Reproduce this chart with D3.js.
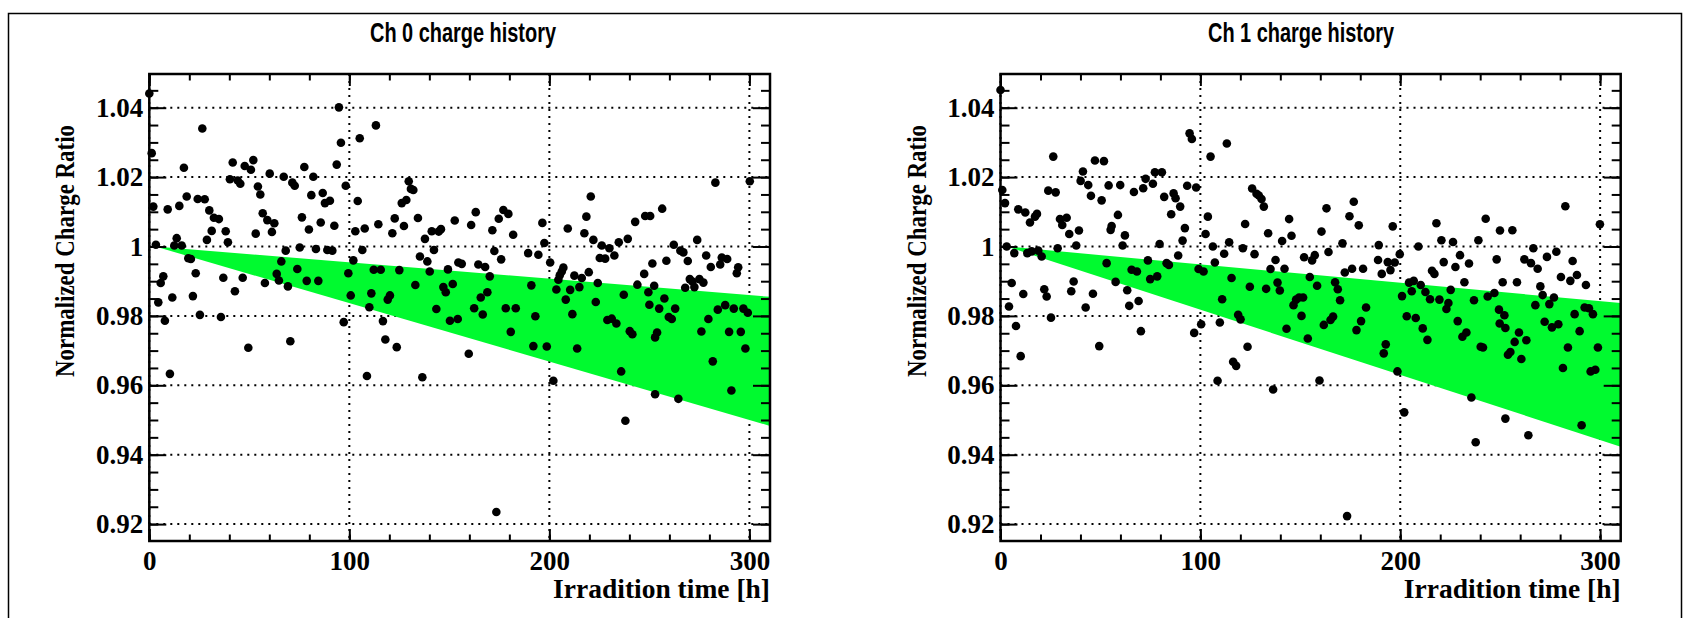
<!DOCTYPE html>
<html>
<head>
<meta charset="utf-8">
<script src="https://cdn.jsdelivr.net/npm/d3@7"></script>
<style>
  html, body { margin: 0; padding: 0; background: #fff; }
  .tick text { font-family: "Liberation Serif", "Times New Roman", serif; font-weight: bold; font-size: 27px; fill: #000; }
  .tick line { stroke: #000; stroke-width: 2; }
</style>
</head>
<body>
<svg id="chart"></svg>
<script>
const width = 1691, height = 618;

// [irradiation time (h), normalized charge ratio]
const ch0Points = [
  [0,1.0441],[1.2,1.0269],[2,1.0115],[3.3,1.0005],[7,0.9914],[5.7,0.9895],[4.5,0.9839],[11.5,0.9853],[9.2,1.0107],[13.7,1.0024],
  [12.5,1.0003],[16.2,1.0003],[15,1.0117],[17.3,1.0227],[18.7,1.0144],[19.5,0.9966],[20.8,0.9964],[23.2,0.9923],[21.8,0.9857],[26.5,1.034],
  [24.2,1.0137],[27.7,1.0136],[30,1.0104],[32.3,1.0083],[34.8,1.0079],[31.2,1.0045],[28.8,1.0019],[38.2,1.0044],[39.3,1.0012],[37,0.991],
  [42.8,0.9871],[46.7,0.991],[40.3,1.0194],[41.7,1.0242],[44.2,1.019],[45.5,1.0181],[47.7,1.0232],[50.8,1.0221],[52,1.0249],[54.3,1.0173],
  [55.5,1.015],[56.7,1.0096],[59,1.0076],[62.5,1.0067],[61.3,1.0042],[53.2,1.0037],[60.2,1.021],[67.2,1.0201],[71.5,1.0184],[72.7,1.0175],
  [68.2,0.9988],[66,0.9957],[63.7,0.9921],[64.8,0.9902],[57.8,0.9895],[69.3,0.9885],[74,0.9935],[75.2,0.9997],[76.3,1.0084],[79.8,1.0049],
  [77.5,1.0229],[82,1.0201],[81,1.0148],[83.3,0.9993],[78.7,0.9901],[84.5,0.9901],[86.7,1.0154],[87.8,1.0125],[90.3,1.0132],[85.7,1.0069],
  [89,0.999],[91.5,0.9988],[92.5,1.006],[93.7,1.0236],[94.8,1.0401],[95.8,1.0299],[98.2,1.0175],[102,0.996],[99.5,0.9923],[100.7,0.9859],
  [103,1.0044],[104.2,1.0131],[106.5,0.999],[107.7,1.0052],[105.2,1.0312],[113.3,1.0349],[114.5,1.0064],[112.2,0.9933],[115.7,0.9933],[111,0.9865],
  [110,0.9825],[119.2,0.9847],[120.3,0.9859],[121.5,1.0038],[122.7,1.0081],[125,0.9932],[127.3,1.0059],[126.2,1.0125],[128.5,1.0134],[129.7,1.0188],
  [130.8,1.0166],[132,1.0163],[134.3,1.0082],[133,0.9889],[135.3,0.9971],[137.8,1.0022],[139,0.9957],[140.2,0.9928],[141.2,1.0044],[142.3,0.999],
  [144.7,1.0043],[145.8,1.005],[143.5,0.982],[147,0.9883],[148.2,0.9868],[149.3,0.9934],[151.7,0.9892],[152.7,1.0075],[154.5,0.9954],
  [7.8,0.9786],[10.3,0.9633],[25.3,0.9803],[35.8,0.9797],[49.5,0.9708],[70.5,0.9727],[97.2,0.9782],[116.8,0.9785],[118,0.9732],[123.7,0.971],
  [108.8,0.9627],[136.5,0.9623],[150.3,0.9786],
  [156.2,0.995],[160.9,1.0062],[163.2,1.0099],[164.5,0.9948],[167.9,0.9941],[170.2,0.9914],[165.7,0.9853],[169,0.9868],[162.4,0.9822],[171.5,1.0047],
  [174.7,1.008],[177,1.0105],[179.5,1.0094],[181.9,1.0034],[172.5,0.9987],[175.9,0.9963],[178.2,0.9822],[183.2,0.9822],[189.4,0.9981],[194.5,0.9976],
  [191,0.9888],[196.5,1.0068],[197.5,1.001],[200.4,0.9954],[207,0.9939],[206.2,0.9928],[205.2,0.9917],[204.5,0.9904],[203.5,0.9876],[208.2,0.9847],
  [210.4,0.9875],[212.5,0.9916],[215,0.9883],[216.2,0.9909],[219.7,0.9926],[224.2,0.9895],[223.2,0.984],[209.2,1.0052],[217.5,1.0038],[218.5,1.0086],
  [220.7,1.0144],[222,1.0019],[226.2,1.0003],[230,0.9995],[225.2,0.9967],[227.9,0.9965],[232.5,0.9974],[234.7,1.0012],[239.2,1.0022],[242.9,1.0071],
  [237.2,0.9861],[244,0.989],[247.4,0.9921],[247.9,1.0088],[250.4,1.0088],[256.4,1.0109],[251.5,0.9951],[249.5,0.9868],[252.4,0.9887],[250,0.9832],
  [257.5,0.985],[258.5,0.9959],[262.2,1.0005],[265.5,0.9988],[267,0.9983],[269.2,0.9958],[273.9,1.0019],[278.4,0.9974],[280.7,0.9941],[285.4,0.9948],
  [286.2,0.9968],[288.9,0.9964],[294.4,0.994],[293.7,0.9923],[270.2,0.9906],[271.5,0.9899],[275,0.9906],[277,0.9896],[267.9,0.9881],[272.5,0.9883],
  [283,1.0184],[300.2,1.0188],[287.9,0.9831],[292.2,0.9821],[297,0.9821],[262.9,0.9821],[254.9,0.9821],[284.2,0.9818],
  [154.2,0.9791],[166.7,0.9804],[180.7,0.9754],[193,0.9799],[192,0.9713],[198.7,0.9712],[159.7,0.9691],[211.5,0.9805],[213.9,0.9706],[202,0.9613],
  [229,0.9788],[231.2,0.9792],[233.5,0.9778],[240.2,0.9756],[241.5,0.9747],[235.9,0.964],[238,0.9498],[173.5,0.9235],[259.7,0.9797],[261.2,0.9791],
  [253.85,0.9752],[252.85,0.9738],[252.85,0.9574],[264.5,0.9561],[276,0.9755],[279.5,0.9791],[299.2,0.9809],[289.85,0.9754],[295.7,0.9754],[298,0.9706],
  [281.7,0.9669],[291,0.9585]
];

const ch1Points = [
  [0,1.0451],[0.9,1.0163],[2.25,1.0125],[3.1,1.0],[6.9,0.9981],[8.9,1.0107],[12.4,1.0098],[14.75,1.0069],[17.25,1.0086],[18.25,1.0094],
  [13.4,0.9981],[15.6,0.9986],[18.9,0.9988],[20.6,0.9971],[5.6,0.9895],[11.4,0.9863],[4.25,0.9827],[21.9,0.9877],[23.1,0.9856],[26.4,1.0259],
  [23.9,1.0161],[27.6,1.0156],[29.75,1.0079],[30.9,1.0062],[33.1,1.0083],[28.6,0.9995],[34.4,1.0036],[39.25,1.0046],[37.9,1.0003],[36.6,0.9899],
  [35.4,0.9871],[40.1,1.0189],[41.25,1.0216],[43.9,1.0177],[45.25,1.0146],[47.25,1.0248],[51.75,1.0246],[50.6,1.0133],[54.1,1.0176],[55.6,1.0059],
  [55.1,1.0048],[58.75,1.0091],[59.9,1.0177],[62.25,1.0032],[61.1,1.0003],[53.1,0.9952],[57.6,0.9898],[46.25,0.9864],[42.6,0.9824],[63.4,0.9874],
  [64.4,0.9829],[66.75,1.0157],[65.6,0.9933],[68.25,0.9928],[69.1,0.9843],[71.4,1.0168],[72.6,1.0195],[76.25,1.0181],[77.25,1.0214],[80.75,1.0214],
  [73.75,0.996],[74.9,0.9906],[78.4,0.9914],[79.6,1.0007],[81.9,1.0143],[83.1,0.9952],[84.25,0.9947],[85.4,1.0093],[86.6,1.0153],[87.6,1.0139],
  [89.9,1.0115],[88.9,0.9974],[91.1,1.0017],[92.25,1.0053],[93.4,1.0175],[94.6,1.0326],[95.75,1.031],[97.9,1.017],[99.1,0.9935],[101.6,0.9928],
  [103.75,1.0086],[102.6,1.0036],[105.1,1.0259],[106.25,1.0],[107.25,0.9954],[111.9,0.9979],[114.4,1.0012],[113.25,1.0297],[115.6,0.9909],[110.9,0.9848],
  [121.25,0.9995],[122.4,1.0065],[124.75,0.9884],[125.9,1.0167],[127.1,0.9978],[128.1,1.0152],[129.25,1.0147],[130.6,1.0137],[131.75,1.0115],[132.9,0.9878],
  [133.9,1.0038],[135.1,0.9935],[137.6,0.9961],[138.6,0.9896],[139.75,0.9873],[140.9,1.0016],[142.1,0.9936],[144.4,1.0079],[145.6,1.0031],[146.6,0.9831],
  [147.9,0.9847],[149.4,0.9853],[151.4,0.9853],[151.9,0.9969],
  [7.75,0.9771],[10.1,0.9684],[25.25,0.9795],[49.4,0.9713],[70.25,0.9756],[96.9,0.9751],[100.4,0.9776],[109.75,0.9781],[118.9,0.9803],[120.1,0.979],
  [116.4,0.9668],[117.9,0.9656],[123.6,0.9711],[108.6,0.9613],[136.4,0.9588],[143.1,0.9763],
  [155.9,0.996],[157.25,0.9975],[154.75,0.9912],[158.4,0.9887],[160.6,1.0043],[163.1,1.011],[164.1,0.9984],[167.4,0.9897],[168.75,0.9877],[169.9,0.9845],
  [171.1,1.0009],[172.25,0.9925],[174.6,1.0087],[175.9,0.9936],[176.75,1.0129],[179.25,1.0061],[181.4,0.9936],[182.9,0.9824],[189.25,1.0004],[188.9,0.9961],
  [190.75,0.9921],[193.75,0.9955],[195.1,0.9932],[196.25,1.0058],[197.25,0.9954],[199.75,0.9978],[200.9,0.9857],[204.4,0.9896],[206.75,0.9901],[205.75,0.9871],
  [209.1,1.0],[210.25,0.9889],[212.6,0.9869],[214.9,0.9848],[215.9,0.993],[217.1,0.9921],[218.1,1.0067],[219.6,0.9847],[220.6,1.0018],[221.75,0.9955],
  [224.1,0.9837],[225.25,0.9875],[226.4,1.0013],[227.6,0.9941],[229.9,0.9975],[232.1,0.9897],[234.4,0.9951],[236.9,0.9845],[239.1,1.0018],[242.75,1.008],
  [243.75,0.9856],[247.1,0.9866],[248.25,0.9963],[249.9,1.0046],[251.25,0.9897],[256.1,1.0047],[258.4,0.9897],[262.1,0.9963],[265.4,0.9952],[266.6,0.9995],
  [268.75,0.9936],[270.1,0.9885],[271.25,0.986],[273.4,0.997],[274.6,0.9834],[276.9,0.9853],[278.1,0.9985],[280.4,0.9912],[282.6,1.0116],[285.1,0.9901],
  [286.25,0.9958],[288.4,0.9918],[292.9,0.9889],[299.9,1.0064],[267.6,0.9831],[292.25,0.9824],[294.4,0.9822],[249.4,0.9818],[223.1,0.982],
  [150.6,0.98],[153.75,0.9735],[161.75,0.9774],[165.1,0.9788],[166.4,0.9798],[180.4,0.9785],[178.1,0.9759],[192.75,0.9718],[191.75,0.9692],[198.6,0.964],
  [159.6,0.9614],[203.25,0.9799],[207.75,0.9794],[211.25,0.9764],[213.6,0.9731],[202,0.9522],[173.4,0.9223],[228.75,0.9785],[233.1,0.9752],[231.1,0.974],
  [240.25,0.9711],[241.4,0.9709],[235.6,0.9565],[237.75,0.9436],[252.1,0.9802],[249.75,0.9778],[252.6,0.9765],[259.4,0.9752],[257.25,0.9725],[263.1,0.973],
  [255.1,0.9696],[253.9,0.9688],[260.6,0.9676],[252.6,0.9504],[264.1,0.9456],[272.25,0.9783],[275.9,0.9767],[279.1,0.9776],[283.9,0.9709],[281.4,0.965],
  [287.25,0.9805],[289.75,0.9756],[296.4,0.9805],[298.9,0.9709],[295.25,0.964],[297.6,0.9645],[290.75,0.9485]
];

// expected degradation band (upper / lower edge)
const bandTime = [3, 310.3];
const ch0BandHi = [1.0, 0.9855];
const ch0BandLo = [1.0, 0.9483];
const ch1BandHi = [1.0, 0.9837];
const ch1BandLo = [1.0, 0.9423];

const xDomain = [0, 310.3];
const yDomain = [0.91513, 1.04971];
const xMajor = [0, 100, 200, 300];
const yMajor = [0.92, 0.94, 0.96, 0.98, 1.0, 1.02, 1.04];
const xMinor = d3.range(0, 311, 20);
const yMinor = d3.range(0.92, 1.0475, 0.005);

const svg = d3.select("#chart")
    .attr("width", width)
    .attr("height", height)
    .attr("viewBox", [0, 0, width, height]);

svg.append("rect").attr("width", width).attr("height", height).attr("fill", "#fff");

// canvas frame
svg.append("rect")
    .attr("x", 8.5).attr("y", 13.5)
    .attr("width", 1673).attr("height", 640)
    .attr("fill", "none").attr("stroke", "#000").attr("stroke-width", 1.5);

const panels = [
    { left: 149.3, right: 770, title: "Ch 0 charge history", titleX: 463, points: ch0Points, hi: ch0BandHi, lo: ch0BandLo },
    { left: 1000.5, right: 1620.7, title: "Ch 1 charge history", titleX: 1301, points: ch1Points, hi: ch1BandHi, lo: ch1BandLo }
];

const plotTop = 74, plotBottom = 541;

panels.forEach(p => {
    const x = d3.scaleLinear().domain(xDomain).range([p.left, p.right]);
    const y = d3.scaleLinear().domain(yDomain).range([plotBottom, plotTop]);
    const g = svg.append("g");

    // title
    g.append("text")
        .attr("x", p.titleX).attr("y", 42)
        .attr("text-anchor", "middle")
        .attr("textLength", 186).attr("lengthAdjust", "spacingAndGlyphs")
        .style("font-family", "'Liberation Sans', Arial, sans-serif")
        .style("font-weight", "bold").style("font-size", "28px")
        .text(p.title);

    // dotted grid
    const grid = g.append("g").attr("stroke", "#000").attr("stroke-width", 2).attr("stroke-dasharray", "2,5");
    grid.selectAll(".gx").data(xMajor).enter().append("line")
        .attr("x1", d => x(d)).attr("x2", d => x(d)).attr("y1", plotTop).attr("y2", plotBottom);
    grid.selectAll(".gy").data(yMajor).enter().append("line")
        .attr("x1", p.left).attr("x2", p.right).attr("y1", d => y(d)).attr("y2", d => y(d));

    // band
    const band = bandTime.map((t, i) => ({ t: t, hi: p.hi[i], lo: p.lo[i] }));
    g.append("path")
        .datum(band)
        .attr("fill", "#00fa2f")
        .attr("d", d3.area().x(d => x(d.t)).y0(d => y(d.lo)).y1(d => y(d.hi)));

    // markers
    g.append("g").selectAll("circle")
        .data(p.points)
        .enter().append("circle")
        .attr("cx", d => x(d[0]))
        .attr("cy", d => y(d[1]))
        .attr("r", 4.3)
        .attr("fill", "#000");

    // axes: ticks point inward
    const fmtY = d => d === 1 ? "1" : d.toFixed(2);
    const ax = (axis, tr) => {
        const a = g.append("g").attr("transform", tr).call(axis);
        a.select(".domain").remove();
        return a;
    };
    ax(d3.axisBottom(x).tickValues(xMinor).tickSize(-6.5).tickFormat(""), `translate(0,${plotBottom})`);
    ax(d3.axisBottom(x).tickValues(xMajor).tickSize(-12).tickPadding(10).tickFormat(d3.format("d")), `translate(0,${plotBottom})`);
    ax(d3.axisTop(x).tickValues(xMinor).tickSize(-6.5).tickFormat(""), `translate(0,${plotTop})`);
    ax(d3.axisTop(x).tickValues(xMajor).tickSize(-12).tickFormat(""), `translate(0,${plotTop})`);
    ax(d3.axisLeft(y).tickValues(yMinor).tickSize(-9).tickFormat(""), `translate(${p.left},0)`);
    ax(d3.axisLeft(y).tickValues(yMajor).tickSize(-17).tickPadding(6).tickFormat(fmtY), `translate(${p.left},0)`);
    ax(d3.axisRight(y).tickValues(yMinor).tickSize(-9).tickFormat(""), `translate(${p.right},0)`);
    ax(d3.axisRight(y).tickValues(yMajor).tickSize(-17).tickFormat(""), `translate(${p.right},0)`);

    // frame
    g.append("rect")
        .attr("x", p.left).attr("y", plotTop)
        .attr("width", p.right - p.left).attr("height", plotBottom - plotTop)
        .attr("fill", "none").attr("stroke", "#000").attr("stroke-width", 2.5);

    // axis titles
    g.append("text")
        .attr("x", p.right).attr("y", 598)
        .attr("text-anchor", "end")
        .style("font-family", "'Liberation Serif', 'Times New Roman', serif")
        .style("font-weight", "bold").style("font-size", "27.5px")
        .text("Irradition time [h]");

    g.append("text")
        .attr("transform", `translate(${p.left - 75},251) rotate(-90)`)
        .attr("text-anchor", "middle")
        .attr("textLength", 252).attr("lengthAdjust", "spacingAndGlyphs")
        .style("font-family", "'Liberation Serif', 'Times New Roman', serif")
        .style("font-weight", "bold").style("font-size", "28px")
        .text("Normalized Charge Ratio");
});
</script>
</body>
</html>
